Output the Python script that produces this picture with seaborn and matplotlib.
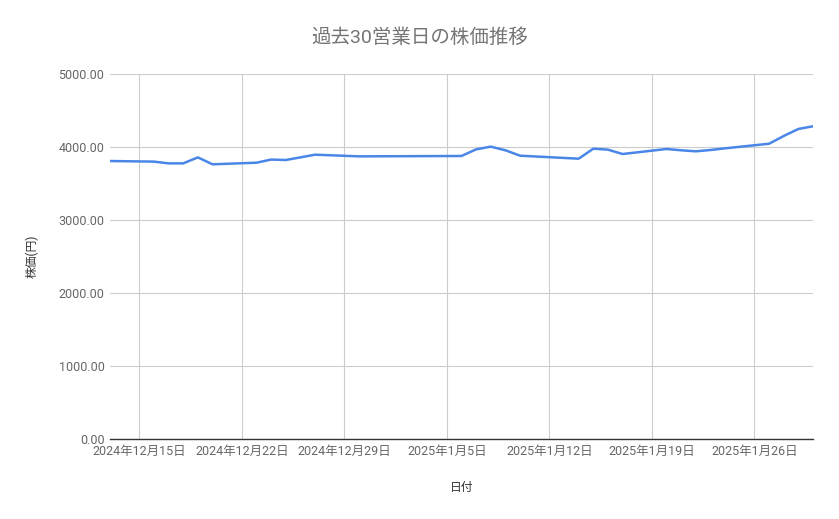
import matplotlib.pyplot as plt
import matplotlib.dates as mdates
import matplotlib.ticker as mticker
import pandas as pd
import seaborn as sns

dates = [
    "2024-12-13", "2024-12-16", "2024-12-17", "2024-12-18", "2024-12-19", "2024-12-20",
    "2024-12-23", "2024-12-24", "2024-12-25", "2024-12-26", "2024-12-27", "2024-12-30",
    "2025-01-06", "2025-01-07", "2025-01-08", "2025-01-09", "2025-01-10", "2025-01-14",
    "2025-01-15", "2025-01-16", "2025-01-17", "2025-01-20", "2025-01-21", "2025-01-22",
    "2025-01-23", "2025-01-24", "2025-01-27", "2025-01-28", "2025-01-29", "2025-01-30",
]
prices = [
    3808, 3800, 3776, 3776, 3858, 3763,
    3785, 3828, 3822, 3858, 3895, 3872,
    3877, 3968, 4005, 3955, 3881, 3840,
    3977, 3964, 3904, 3973, 3955, 3941,
    3959, 3982, 4045, 4151, 4247, 4284,
]

df = pd.DataFrame({"date": pd.to_datetime(dates), "price": prices})

sns.set_style("white")
plt.rcParams['font.family'] = ['Roboto', 'Noto Sans CJK JP', 'DejaVu Sans']

fig = plt.figure(figsize=(8.39, 5.19), dpi=100)
ax = fig.add_axes([0.1311, 0.1541, 0.8379, 0.7033])

sns.lineplot(data=df, x="date", y="price", ax=ax, color="#4a86e8", linewidth=1.8)

ax.set_xlim(pd.Timestamp("2024-12-13"), pd.Timestamp("2025-01-30"))
ax.set_ylim(0, 5000)
ax.xaxis.set_major_locator(mdates.WeekdayLocator(byweekday=mdates.SU))
ax.xaxis.set_major_formatter(
    mticker.FuncFormatter(lambda v, p: (lambda d: f"{d.year}年{d.month}月{d.day}日")(mdates.num2date(v)))
)
ax.yaxis.set_major_locator(mticker.MultipleLocator(1000))
ax.yaxis.set_major_formatter(mticker.FormatStrFormatter("%.2f"))

ax.grid(True, color="#cccccc", linewidth=0.8)
for s in ["top", "right", "left"]:
    ax.spines[s].set_visible(False)
ax.spines["bottom"].set_color("#333333")
ax.spines["bottom"].set_linewidth(1.0)
ax.tick_params(axis="both", length=0, labelsize=9, labelcolor="#666666", pad=4)

# title is centred on the whole figure, not on the axes
fig.text(0.5, 0.927, "過去30営業日の株価推移", fontsize=14, color="#757575",
         ha="center", va="center")
ax.set_xlabel("日付", fontsize=8.5, color="#333333", labelpad=17)
ax.set_ylabel("株価(円)", fontsize=8.5, color="#333333", labelpad=14)

fig.savefig("out.png", dpi=100)
